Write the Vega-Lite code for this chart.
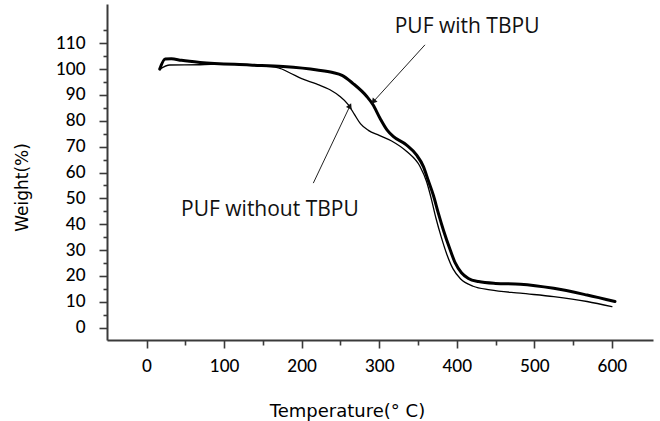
{
  "$schema": "https://vega.github.io/schema/vega-lite/v6.json",
  "width": 546,
  "height": 336,
  "autosize": "none",
  "padding": {"left": 107, "top": 4, "right": 7, "bottom": 81},
  "background": "white",
  "config": {
    "view": {"stroke": null},
    "font": "Lato",
    "axis": {"grid": false, "domainColor": "#3a3a3a", "domainWidth": 2, "tickColor": "#3a3a3a", "tickWidth": 1.6, "labelColor": "#000", "titleColor": "#000", "labelFont": "Lato", "titleFont": "DejaVu Sans"}
  },
  "datasets": {
    "curves": [
      {"temp": 17, "weight": 100, "series": "PUF with TBPU"},
      {"temp": 24, "weight": 103.9, "series": "PUF with TBPU"},
      {"temp": 32, "weight": 104, "series": "PUF with TBPU"},
      {"temp": 45, "weight": 103.4, "series": "PUF with TBPU"},
      {"temp": 69, "weight": 102.6, "series": "PUF with TBPU"},
      {"temp": 133, "weight": 101.6, "series": "PUF with TBPU"},
      {"temp": 176, "weight": 101, "series": "PUF with TBPU"},
      {"temp": 220, "weight": 99.7, "series": "PUF with TBPU"},
      {"temp": 240, "weight": 98.7, "series": "PUF with TBPU"},
      {"temp": 252, "weight": 97.6, "series": "PUF with TBPU"},
      {"temp": 266, "weight": 94.5, "series": "PUF with TBPU"},
      {"temp": 284, "weight": 89.4, "series": "PUF with TBPU"},
      {"temp": 292, "weight": 86.2, "series": "PUF with TBPU"},
      {"temp": 301, "weight": 81, "series": "PUF with TBPU"},
      {"temp": 310, "weight": 76.5, "series": "PUF with TBPU"},
      {"temp": 318, "weight": 74, "series": "PUF with TBPU"},
      {"temp": 335, "weight": 70.7, "series": "PUF with TBPU"},
      {"temp": 348, "weight": 66.8, "series": "PUF with TBPU"},
      {"temp": 357, "weight": 62.3, "series": "PUF with TBPU"},
      {"temp": 363, "weight": 57.1, "series": "PUF with TBPU"},
      {"temp": 370, "weight": 51, "series": "PUF with TBPU"},
      {"temp": 376, "weight": 44.5, "series": "PUF with TBPU"},
      {"temp": 383, "weight": 37.5, "series": "PUF with TBPU"},
      {"temp": 391, "weight": 30.5, "series": "PUF with TBPU"},
      {"temp": 398, "weight": 25, "series": "PUF with TBPU"},
      {"temp": 406, "weight": 21.2, "series": "PUF with TBPU"},
      {"temp": 415, "weight": 19, "series": "PUF with TBPU"},
      {"temp": 428, "weight": 17.8, "series": "PUF with TBPU"},
      {"temp": 450, "weight": 17.1, "series": "PUF with TBPU"},
      {"temp": 482, "weight": 16.8, "series": "PUF with TBPU"},
      {"temp": 525, "weight": 15.2, "series": "PUF with TBPU"},
      {"temp": 568, "weight": 12.6, "series": "PUF with TBPU"},
      {"temp": 604, "weight": 10.1, "series": "PUF with TBPU"},
      {"temp": 17, "weight": 100, "series": "PUF without TBPU"},
      {"temp": 30, "weight": 101.6, "series": "PUF without TBPU"},
      {"temp": 69, "weight": 101.7, "series": "PUF without TBPU"},
      {"temp": 100, "weight": 102, "series": "PUF without TBPU"},
      {"temp": 140, "weight": 101.4, "series": "PUF without TBPU"},
      {"temp": 170, "weight": 100.5, "series": "PUF without TBPU"},
      {"temp": 185, "weight": 98.5, "series": "PUF without TBPU"},
      {"temp": 200, "weight": 96.3, "series": "PUF without TBPU"},
      {"temp": 219, "weight": 94.3, "series": "PUF without TBPU"},
      {"temp": 236.5, "weight": 92, "series": "PUF without TBPU"},
      {"temp": 249, "weight": 89.5, "series": "PUF without TBPU"},
      {"temp": 260, "weight": 86.3, "series": "PUF without TBPU"},
      {"temp": 268, "weight": 82.5, "series": "PUF without TBPU"},
      {"temp": 276, "weight": 78.8, "series": "PUF without TBPU"},
      {"temp": 286, "weight": 76.3, "series": "PUF without TBPU"},
      {"temp": 300, "weight": 74.4, "series": "PUF without TBPU"},
      {"temp": 316, "weight": 72.2, "series": "PUF without TBPU"},
      {"temp": 335.5, "weight": 68.1, "series": "PUF without TBPU"},
      {"temp": 352.6, "weight": 62.3, "series": "PUF without TBPU"},
      {"temp": 361, "weight": 56.5, "series": "PUF without TBPU"},
      {"temp": 367, "weight": 50, "series": "PUF without TBPU"},
      {"temp": 373, "weight": 42.5, "series": "PUF without TBPU"},
      {"temp": 380, "weight": 35, "series": "PUF without TBPU"},
      {"temp": 387, "weight": 28.5, "series": "PUF without TBPU"},
      {"temp": 395, "weight": 22.8, "series": "PUF without TBPU"},
      {"temp": 405, "weight": 18.8, "series": "PUF without TBPU"},
      {"temp": 421, "weight": 16, "series": "PUF without TBPU"},
      {"temp": 443, "weight": 14.6, "series": "PUF without TBPU"},
      {"temp": 482, "weight": 13.3, "series": "PUF without TBPU"},
      {"temp": 525, "weight": 12, "series": "PUF without TBPU"},
      {"temp": 568, "weight": 10.1, "series": "PUF without TBPU"},
      {"temp": 600, "weight": 8.1, "series": "PUF without TBPU"}
    ],
    "notes": [
      {"label": "PUF with TBPU", "tx": 320, "ty": 116.3, "x1": 359, "y1": 109.4, "x2": 292.4, "y2": 87.4},
      {"label": "PUF without TBPU", "tx": 44.5, "ty": 45.5, "x1": 215, "y1": 55.9, "x2": 262.3, "y2": 85.8}
    ]
  },
  "layer": [
    {
      "data": {"name": "curves"},
      "mark": {"type": "line", "interpolate": "monotone", "color": "black", "strokeCap": "round", "strokeJoin": "round"},
      "encoding": {
        "x": {"field": "temp", "type": "quantitative", "scale": {"domain": [-51, 653], "nice": false, "zero": false},
          "axis": {"orient": "bottom", "values": [0, 100, 200, 300, 400, 500, 600], "tickSize": 8, "labelFontSize": 17, "labelFontWeight": 500, "labelPadding": 10, "title": "Temperature(° C)", "titleFontSize": 18, "titleFontWeight": "normal", "titleAnchor": null, "titleX": 240, "titleY": 76, "titleAlign": "center", "titleBaseline": "alphabetic"}},
        "y": {"field": "weight", "type": "quantitative", "scale": {"domain": [-4.8, 125.2], "nice": false, "zero": false},
          "axis": {"orient": "left", "values": [0, 10, 20, 30, 40, 50, 60, 70, 80, 90, 100, 110], "tickSize": 8, "labelFontSize": 17, "labelFontWeight": 500, "labelPadding": 14, "title": "Weight(%)", "titleFontSize": 17, "titleFontWeight": "normal", "titleX": -85, "titleY": 183, "titleAlign": "center", "titleBaseline": "middle", "titleAngle": 270}},
        "detail": {"field": "series", "type": "nominal"},
        "strokeWidth": {"field": "series", "type": "nominal", "scale": {"domain": ["PUF with TBPU", "PUF without TBPU"], "range": [3, 1.3]}, "legend": null}
      }
    },
    {
      "data": {"values": [{"v": 5}, {"v": 15}, {"v": 25}, {"v": 35}, {"v": 45}, {"v": 55}, {"v": 65}, {"v": 75}, {"v": 85}, {"v": 95}, {"v": 105}, {"v": 115}]},
      "mark": {"type": "point", "opacity": 0},
      "encoding": {
        "y": {"field": "v", "type": "quantitative", "axis": {"orient": "left", "values": [5, 15, 25, 35, 45, 55, 65, 75, 85, 95, 105, 115], "labels": false, "domain": false, "tickSize": 4, "title": null}}
      }
    },
    {
      "data": {"values": [{"v": 50}, {"v": 150}, {"v": 250}, {"v": 350}, {"v": 450}, {"v": 550}]},
      "mark": {"type": "point", "opacity": 0},
      "encoding": {
        "x": {"field": "v", "type": "quantitative", "axis": {"orient": "bottom", "values": [50, 150, 250, 350, 450, 550], "labels": false, "domain": false, "tickSize": 5, "title": null}}
      }
    },
    {
      "data": {"name": "notes"},
      "mark": {"type": "rule", "color": "#222", "strokeWidth": 1},
      "encoding": {
        "x": {"field": "x1", "type": "quantitative", "axis": null},
        "y": {"field": "y1", "type": "quantitative", "axis": null},
        "x2": {"field": "x2"},
        "y2": {"field": "y2"}
      }
    },
    {
      "data": {"name": "notes"},
      "transform": [{"filter": "datum.label === 'PUF with TBPU'"}],
      "mark": {"type": "point", "shape": "triangle-up", "filled": true, "color": "#111", "size": 40, "angle": 222, "opacity": 1},
      "encoding": {
        "x": {"field": "x2", "type": "quantitative", "axis": null},
        "y": {"field": "y2", "type": "quantitative", "axis": null}
      }
    },
    {
      "data": {"name": "notes"},
      "transform": [{"filter": "datum.label === 'PUF without TBPU'"}],
      "mark": {"type": "point", "shape": "triangle-up", "filled": true, "color": "#111", "size": 40, "angle": 25, "opacity": 1},
      "encoding": {
        "x": {"field": "x2", "type": "quantitative", "axis": null},
        "y": {"field": "y2", "type": "quantitative", "axis": null}
      }
    },
    {
      "data": {"name": "notes"},
      "mark": {"type": "text", "align": "left", "baseline": "middle", "font": "Open Sans", "fontSize": 21, "color": "#111"},
      "encoding": {
        "x": {"field": "tx", "type": "quantitative", "axis": null},
        "y": {"field": "ty", "type": "quantitative", "axis": null},
        "text": {"field": "label"}
      }
    }
  ],
  "resolve": {"axis": {"x": "independent", "y": "independent"}}
}
